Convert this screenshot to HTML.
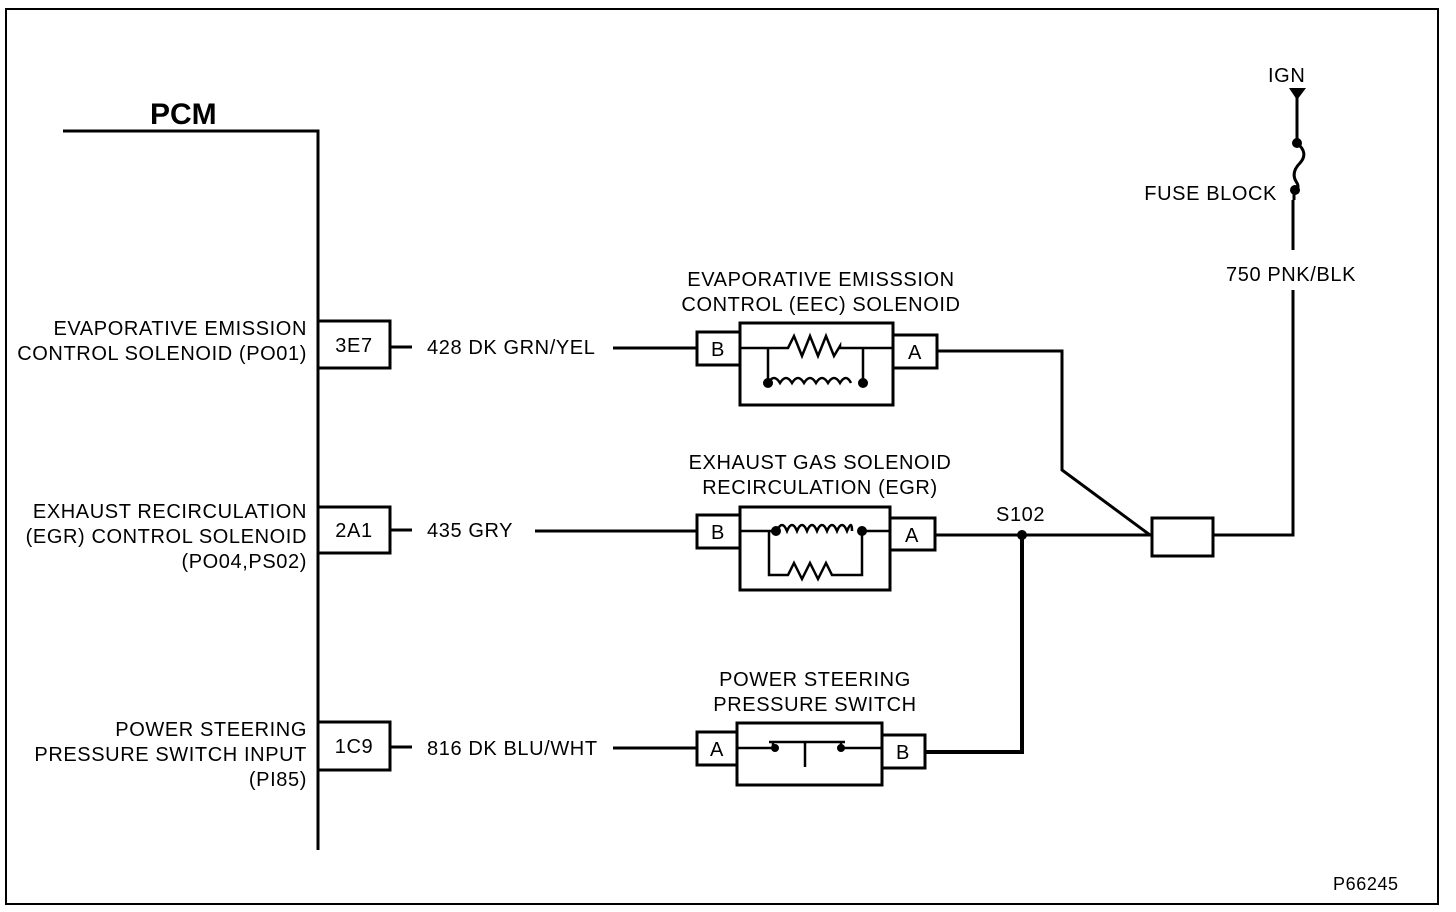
<!DOCTYPE html>
<html><head><meta charset="utf-8"><style>
html,body{margin:0;padding:0;background:#fff;}
svg{display:block;}
text{font-family:"Liberation Sans",sans-serif;font-size:20px;fill:#000;letter-spacing:0.6px;}
</style></head><body>
<svg width="1456" height="912" viewBox="0 0 1456 912" xmlns="http://www.w3.org/2000/svg">
<g fill="none" stroke="#000" stroke-width="3">
<rect x="6" y="9" width="1432" height="895" stroke-width="2"/>
<path d="M63 131 H318 V850"/>
<rect x="318" y="321" width="72" height="47"/>
<rect x="318" y="507" width="72" height="46"/>
<rect x="318" y="722" width="72" height="48"/>
<path d="M390 347 H412 M613 348 H697"/>
<path d="M390 530 H412 M535 531 H697"/>
<path d="M390 747 H412 M613 748 H697"/>
<rect x="697" y="332" width="43" height="33"/>
<rect x="740" y="323" width="153" height="82"/>
<rect x="893" y="335" width="44" height="33"/>
<path d="M740 348 H788 l6 -12 l8 20 l8 -20 l8 20 l8 -20 l8 20 l6 -10 V348 H893" stroke-width="2.5"/>
<path d="M768 348 V383 M863 348 V383" stroke-width="2.5"/>
<path d="M768 383 q6 -10 12 0 q6 -10 12 0 q6 -10 12 0 q6 -10 12 0 q6 -10 12 0 q6 -10 12 0 q6 -10 11 0" stroke-width="2.5"/>
<path d="M937 351 H1062 V470 L1150 535"/>
<rect x="697" y="515" width="43" height="33"/>
<rect x="740" y="507" width="150" height="83"/>
<rect x="890" y="518" width="45" height="32"/>
<path d="M740 531 H777 M862 531 H890" stroke-width="2.5"/>
<path d="M777 531 q5 -12 10 0 q5 -12 10 0 q5 -12 10 0 q5 -12 10 0 q5 -12 10 0 q5 -12 10 0 q5 -12 10 0 q5 -12 5 0" stroke-width="2.5"/>
<path d="M769 531 V575 H788 l6 -12 l8 16 l8 -16 l8 16 l8 -16 l6 12 H862 V531" stroke-width="2.5"/>
<path d="M935 535 H1152"/>
<path d="M1022 535 V752 H925" stroke-width="4"/>
<rect x="1152" y="518" width="61" height="38"/>
<path d="M1213 535 H1293 V290"/>
<path d="M1293 250 V200"/>
<path d="M1297 95 V143 q12 10 3 20 q-10 10 -3 20 q3 5 -3 8 V200" stroke-width="3"/>
<rect x="697" y="732" width="40" height="33"/>
<rect x="737" y="723" width="145" height="62"/>
<rect x="882" y="735" width="43" height="33"/>
<path d="M737 748 H773 V742 M841 742 V748 H882 M769 742 H845 M805 742 V767" stroke-width="2.5"/>
</g>
<g fill="#000">
<circle cx="768" cy="383" r="5"/><circle cx="863" cy="383" r="5"/>
<circle cx="776" cy="531" r="5"/><circle cx="862" cy="531" r="5"/>
<circle cx="775" cy="748" r="4"/><circle cx="841" cy="748" r="4"/>
<circle cx="1022" cy="535" r="5"/>
<circle cx="1297" cy="143" r="5"/><circle cx="1295" cy="190" r="5"/>
<path d="M1289 88 H1306 L1297 100 Z"/>
</g>
<text x="150" y="124" style="font-size:30px;font-weight:bold;letter-spacing:0">PCM</text>
<g text-anchor="end">
<text x="307" y="335">EVAPORATIVE EMISSION</text>
<text x="307" y="360">CONTROL SOLENOID (PO01)</text>
<text x="307" y="518">EXHAUST RECIRCULATION</text>
<text x="307" y="543">(EGR) CONTROL SOLENOID</text>
<text x="307" y="568">(PO04,PS02)</text>
<text x="307" y="736">POWER STEERING</text>
<text x="307" y="761">PRESSURE SWITCH INPUT</text>
<text x="307" y="786">(PI85)</text>
<text x="1277" y="200">FUSE BLOCK</text>
</g>
<g text-anchor="middle">
<text x="354" y="352">3E7</text>
<text x="354" y="537">2A1</text>
<text x="354" y="753">1C9</text>
<text x="718" y="356">B</text><text x="915" y="359">A</text>
<text x="718" y="539">B</text><text x="912" y="542">A</text>
<text x="717" y="756">A</text><text x="903" y="759">B</text>
<text x="821" y="286">EVAPORATIVE EMISSSION</text>
<text x="821" y="311">CONTROL (EEC) SOLENOID</text>
<text x="820" y="469">EXHAUST GAS SOLENOID</text>
<text x="820" y="494">RECIRCULATION (EGR)</text>
<text x="815" y="686">POWER STEERING</text>
<text x="815" y="711">PRESSURE SWITCH</text>
</g>
<text x="427" y="354">428 DK GRN/YEL</text>
<text x="427" y="537">435 GRY</text>
<text x="427" y="755">816 DK BLU/WHT</text>
<text x="996" y="521">S102</text>
<text x="1226" y="281">750 PNK/BLK</text>
<text x="1268" y="82">IGN</text>
<text x="1333" y="890" style="font-size:18px">P66245</text>
</svg>
</body></html>
